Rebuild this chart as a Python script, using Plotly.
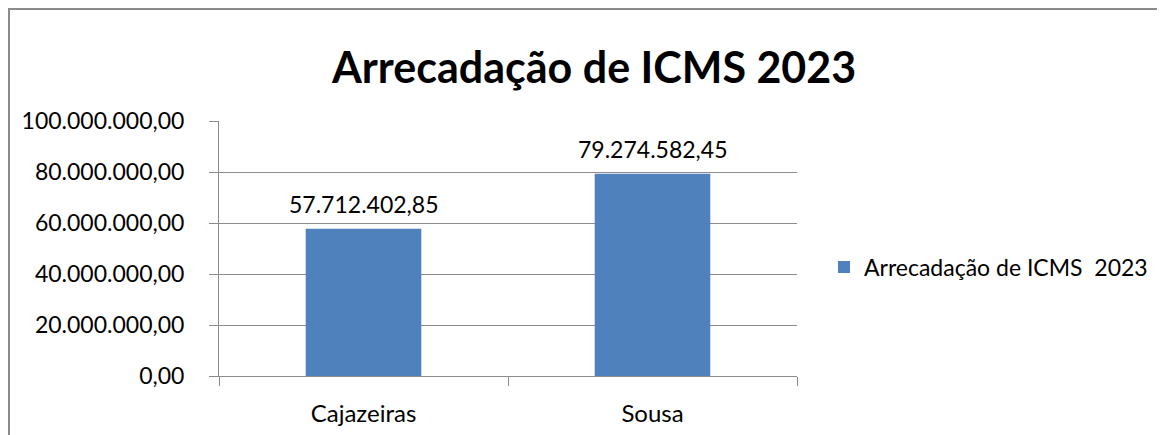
import plotly.graph_objects as go

categories = ["Cajazeiras", "Sousa"]
values = [57712402.85, 79274582.45]
series_name = "Arrecadação de ICMS  2023"
title_text = "Arrecadação de ICMS 2023"
y_ticks = [0, 20000000, 40000000, 60000000, 80000000, 100000000]

W, H = 1165, 435
OFF = 8  # page body margin
L, R, T, B = 219 - OFF, 797 - OFF, 121 - OFF, 376 - OFF  # plot area in figure pixels

FONT = "Lato"
GRID = "#8c8c8c"
BAR = "#4f81bd"

def fmt_br(v):
    s = f"{v:,.2f}"
    return s.replace(",", "X").replace(".", ",").replace("X", ".")

fig = go.Figure()
fig.add_trace(go.Bar(
    x=categories, y=values, name=series_name,
    marker=dict(color=BAR, line=dict(width=0)),
    width=0.4,
    showlegend=True,
))

def px_x(p):
    return (p - L) / (R - L)

def px_y(p):
    return (B - p) / (B - T)

annotations = [dict(text="<b>" + title_text + "</b>", xref="paper", yref="paper",
                    x=px_x(585), y=px_y(58), xanchor="center", yanchor="middle",
                    showarrow=False, font=dict(family=FONT, size=43, color="#000000"))]
for c, v in zip(categories, values):
    annotations.append(dict(text=fmt_br(v), x=c, y=v, xref="x", yref="y",
                            xanchor="center", yanchor="bottom", yshift=9,
                            showarrow=False,
                            font=dict(family=FONT, size=23, color="#000000")))

fig.update_layout(
    width=W, height=H,
    margin=dict(l=L, r=W - R, t=T, b=H - B, pad=0),
    paper_bgcolor="white", plot_bgcolor="white",
    separators=",.",
    font=dict(family=FONT, size=23, color="#000000"),
    showlegend=True,
    legend=dict(x=px_x(816), y=px_y(259), xanchor="left", yanchor="middle",
                font=dict(family=FONT, size=23), bgcolor="rgba(0,0,0,0)",
                itemwidth=30),
    bargap=0.6,
    annotations=annotations,
    shapes=[dict(type="rect", xref="paper", yref="paper",
                 x0=px_x(1), x1=px_x(W + 10), y0=px_y(H + 10), y1=px_y(1),
                 line=dict(color="#8a8a8a", width=2), fillcolor="rgba(0,0,0,0)",
                 layer="below")],
)
fig.update_xaxes(
    showline=True, linecolor=GRID, linewidth=1,
    ticks="outside", tickson="boundaries", ticklen=9, tickcolor=GRID,
    showgrid=False, tickfont=dict(family=FONT, size=24), ticklabelstandoff=16,
)
fig.update_yaxes(
    range=[0, 100000000], tickvals=y_ticks, tickformat=",.2f",
    showline=True, linecolor=GRID, linewidth=1,
    ticks="outside", ticklen=9, tickcolor=GRID,
    showgrid=True, gridcolor=GRID, gridwidth=1,
    zeroline=False, tickfont=dict(family=FONT, size=23), ticklabelstandoff=20,
)

fig.write_html("out.html")
